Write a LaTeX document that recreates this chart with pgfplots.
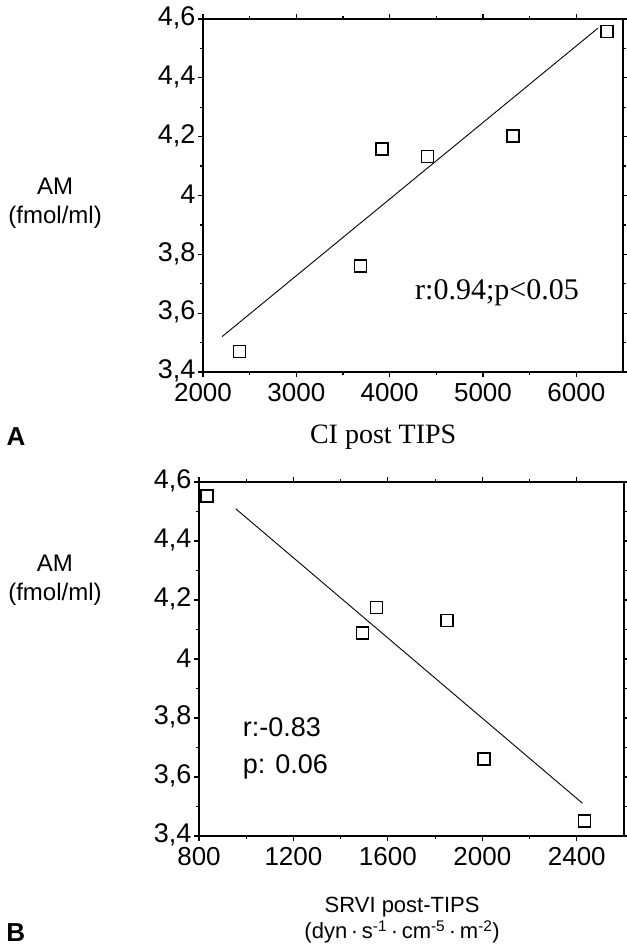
\documentclass[border=0pt]{standalone}
\usepackage{fontspec}
\setmainfont{Liberation Sans}
\newfontfamily\serif{Liberation Serif}
\usepackage{pgfplots}
\pgfplotsset{compat=1.18}

\pgfplotsset{
  panel/.style={
    scale only axis,
    axis line style={line width=1.4pt},
    tick align=outside,
    xtick pos=both, ytick pos=both,
    major tick length=5pt, minor tick length=3pt,
    every tick/.style={line width=1.2pt,black},
    minor x tick num=1, minor y tick num=1,
    ymin=3.4, ymax=4.6, ytick={3.4,3.6,...,4.61},
    /pgf/number format/assume math mode=true,
    /pgf/number format/use comma,
    /pgf/number format/1000 sep={},
    yticklabel style={/pgf/number format/fixed,/pgf/number format/precision=1,
      font=\fontsize{27}{30}\selectfont, xshift=1pt, yshift=1pt},
    xticklabel style={font=\fontsize{26}{30}\selectfont, yshift=-3pt},
    clip=false,
  },
  pts/.style={only marks, mark=square, mark size=6pt, line width=1.6pt, black},
  fit/.style={no marks, black, line width=0.9pt},
}

\begin{document}
\begin{tikzpicture}
\useasboundingbox (0,0) rectangle (626pt,947pt);

% panel A
\begin{axis}[panel, at={(203pt,575pt)}, anchor=south west,
  width=420pt, height=353pt,
  xmin=2000, xmax=6500, xtick={2000,3000,...,6000}]
\addplot[pts] coordinates {(2390,3.47)(3686,3.76)(3921,4.158)(4404,4.132)(5321,4.203)(6329,4.558)};
\addplot[fit] coordinates {(2204,3.52)(6232,4.569)};
\node[font=\serif\fontsize{30}{34}\selectfont] at (rel axis cs:0.70,0.225) {r:0.94;p<0.05};
\node[font=\serif\fontsize{28}{32}\selectfont] at (rel axis cs:0.429,-0.184) {CI post TIPS};
\node[font=\bfseries\fontsize{26}{30}\selectfont] at (rel axis cs:-0.445,-0.184) {A};
\node[font=\fontsize{24}{29}\selectfont, align=center] at (rel axis cs:-0.352,0.478) {AM\\(fmol/ml)};
\end{axis}

% panel B
\begin{axis}[panel, at={(199pt,111pt)}, anchor=south west,
  width=425pt, height=354pt,
  xmin=800, xmax=2600, xtick={800,1200,...,2400}]
\addplot[pts] coordinates {(834,4.553)(1492,4.089)(1552,4.174)(1851,4.130)(2008,3.662)(2433,3.451)};
\addplot[fit] coordinates {(956,4.509)(2424,3.511)};
\node[anchor=west, font=\fontsize{27}{30}\selectfont] at (rel axis cs:0.095,0.308) {r:-0.83};
\node[anchor=west, font=\fontsize{27}{30}\selectfont] at (rel axis cs:0.095,0.195) {p: 0.06};
\node[font=\fontsize{22}{26}\selectfont] at (rel axis cs:0.478,-0.20) {SRVI post-TIPS};
\node[font=\fontsize{22}{26}\selectfont] at (rel axis cs:0.478,-0.271) {(dyn\,·\,s\textsuperscript{-1}\,·\,cm\textsuperscript{-5}\,·\,m\textsuperscript{-2})};
\node[font=\bfseries\fontsize{26}{30}\selectfont] at (rel axis cs:-0.431,-0.272) {B};
\node[font=\fontsize{24}{29}\selectfont, align=center] at (rel axis cs:-0.339,0.722) {AM\\(fmol/ml)};
\end{axis}
\end{tikzpicture}
\end{document}
